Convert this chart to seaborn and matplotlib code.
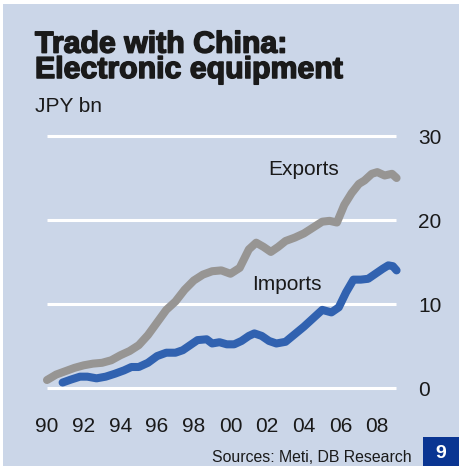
import matplotlib
matplotlib.use("Agg")
import matplotlib.pyplot as plt
import matplotlib.patheffects as pe
from matplotlib.patches import Rectangle
import pandas as pd
import seaborn as sns

# Japan's trade with China in electronic equipment, JPY bn
export_years = [1990.0, 1990.5, 1991.0, 1991.5, 1992.0, 1992.5, 1993.0, 1993.5,
                1994.0, 1994.5, 1995.0, 1995.5, 1996.0, 1996.5, 1997.0, 1997.5,
                1998.0, 1998.5, 1999.0, 1999.5, 2000.0, 2000.5, 2001.0, 2001.4,
                2001.8, 2002.2, 2002.6, 2003.0, 2003.5, 2004.0, 2004.5, 2005.0,
                2005.4, 2005.8, 2006.2, 2006.6, 2007.0, 2007.3, 2007.7, 2008.0,
                2008.4, 2008.8, 2009.05]
export_values = [0.95, 1.6, 2.0, 2.4, 2.7, 2.9, 3.0, 3.3,
                 3.9, 4.4, 5.1, 6.3, 7.8, 9.3, 10.3, 11.7,
                 12.8, 13.5, 13.9, 14.0, 13.6, 14.3, 16.5, 17.3,
                 16.8, 16.2, 16.8, 17.5, 17.9, 18.4, 19.1, 19.8,
                 19.9, 19.7, 21.8, 23.2, 24.3, 24.7, 25.5, 25.7,
                 25.3, 25.5, 25.0]

import_years = [1990.85, 1991.3, 1991.8, 1992.2, 1992.7, 1993.2, 1993.7, 1994.2,
                1994.6, 1995.0, 1995.5, 1996.0, 1996.5, 1997.0, 1997.4, 1997.8,
                1998.2, 1998.7, 1999.0, 1999.4, 1999.8, 2000.2, 2000.6, 2001.0,
                2001.3, 2001.7, 2002.1, 2002.5, 2003.0, 2003.5, 2004.0, 2004.5,
                2005.0, 2005.5, 2005.9, 2006.3, 2006.7, 2007.1, 2007.5, 2007.9,
                2008.3, 2008.6, 2008.85, 2009.05]
import_values = [0.65, 1.0, 1.35, 1.35, 1.15, 1.35, 1.7, 2.1,
                 2.5, 2.5, 3.0, 3.8, 4.2, 4.2, 4.5, 5.1,
                 5.7, 5.8, 5.3, 5.45, 5.2, 5.2, 5.6, 6.2,
                 6.5, 6.2, 5.6, 5.3, 5.5, 6.4, 7.3, 8.3,
                 9.3, 9.0, 9.6, 11.4, 12.9, 12.9, 13.0, 13.6,
                 14.2, 14.6, 14.5, 14.0]

x_ticks = [1990, 1992, 1994, 1996, 1998, 2000, 2002, 2004, 2006, 2008]
x_tick_labels = ["90", "92", "94", "96", "98", "00", "02", "04", "06", "08"]
y_ticks = [0, 10, 20, 30]

BG = "#CBD6E8"
GREY = "#979593"
BLUE = "#3162B0"
NAVY = "#0A3592"
INK = "#1a1a1a"

sns.set_theme(style="white")
plt.rcParams["font.family"] = ["Liberation Sans", "DejaVu Sans"]

W, H = 459, 466
fig = plt.figure(figsize=(W / 100, H / 100), dpi=100, facecolor="white")

# panel background, kept behind the axes
fig.patches.append(Rectangle((3 / W, 0), 1, 1 - 4 / H, transform=fig.transFigure,
                             facecolor=BG, edgecolor="none", zorder=-10))

ax = fig.add_axes([28.65 / W, 69.6 / H, 385.35 / W, 268.8 / H])
ax.set_zorder(1)
ax.set_facecolor("none")
ax.set_xlim(1989, 2010)
ax.set_ylim(-1, 31)

ax.hlines(y_ticks, 1990, 2009, colors="white", linewidth=2.2, zorder=1)

exports = pd.DataFrame({"year": export_years, "value": export_values})
imports = pd.DataFrame({"year": import_years, "value": import_values})
sns.lineplot(data=exports, x="year", y="value", ax=ax, color=GREY,
             linewidth=5.8, solid_capstyle="round", solid_joinstyle="round",
             zorder=3, estimator=None, sort=False)
sns.lineplot(data=imports, x="year", y="value", ax=ax, color=BLUE,
             linewidth=5.8, solid_capstyle="round", solid_joinstyle="round",
             zorder=4, estimator=None, sort=False)

for s in ax.spines.values():
    s.set_visible(False)
ax.set_xlabel("")
ax.set_ylabel("")
ax.set_xticks(x_ticks)
ax.set_xticklabels(x_tick_labels)
ax.set_yticks(y_ticks)
ax.yaxis.tick_right()
ax.tick_params(axis="x", length=0, pad=14.5, labelsize=15, labelcolor=INK)
ax.tick_params(axis="y", length=0, pad=3, labelsize=15, labelcolor=INK)
for t in ax.get_yticklabels():
    t.set_horizontalalignment("left")

ax.text(2002.04, 25.35, "Exports", fontsize=15, color=INK, ha="left", va="baseline")
ax.text(2001.17, 11.67, "Imports", fontsize=15, color=INK, ha="left", va="baseline")

# titles and notes
heavy = [pe.withStroke(linewidth=1.1, foreground=INK)]
fig.text(35 / W, 1 - 78 / H, "Trade with China:\nElectronic equipment", fontsize=21.8,
         fontweight="bold", color=INK, ha="left", va="baseline", linespacing=0.88,
         path_effects=heavy)
fig.text(35 / W, 1 - 112 / H, "JPY bn", fontsize=15, color=INK,
         ha="left", va="baseline")
fig.text(412 / W, 1 - 462 / H, "Sources: Meti, DB Research", fontsize=11.4,
         color=INK, ha="right", va="baseline")

fig.patches.append(Rectangle((423 / W, 0), 36 / W, 29 / H, transform=fig.transFigure,
                             facecolor=NAVY, edgecolor="none", zorder=1))
fig.text(441 / W, 1 - 453 / H, "9", fontsize=14, fontweight="bold", color="white",
         ha="center", va="center")

fig.savefig("out.png", dpi=100, facecolor="white")
